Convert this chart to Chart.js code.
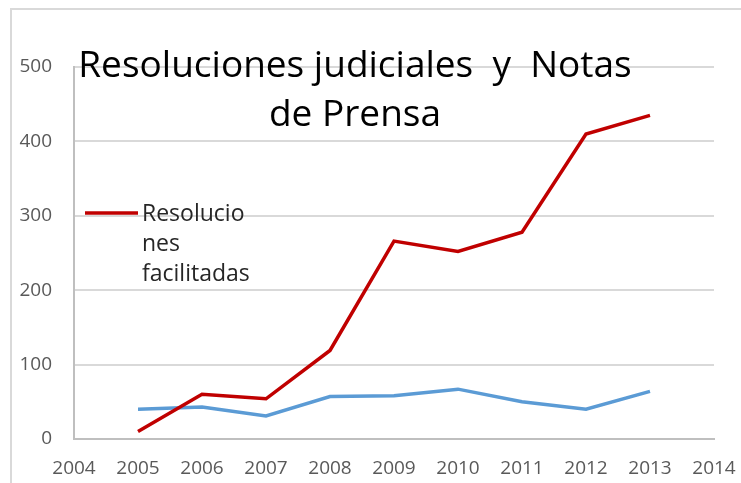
<!DOCTYPE html>
<html>
<head>
<meta charset="utf-8">
<script src="https://cdn.jsdelivr.net/npm/chart.js@4.4.1/dist/chart.umd.min.js"></script>
<style>
  body { margin: 0; background: #fff; }
  #wrap { position: relative; width: 741px; height: 483px; overflow: hidden; }
  #frame { position: absolute; left: 10px; top: 8px; width: 800px; height: 600px;
           border-left: 2px solid #d9d9d9; border-top: 2px solid #d9d9d9; }
  #myChart { position: absolute; left: 0; top: 0; }
</style>
</head>
<body>
<div id="wrap">
  <div id="frame"></div>
  <canvas id="myChart" width="741" height="483"></canvas>
</div>
<script>
const years = [2005, 2006, 2007, 2008, 2009, 2010, 2011, 2012, 2013]
const resoluciones = [10, 60, 54, 119, 266, 252, 278, 410, 435]
const notasPrensa = [40, 43, 31, 57, 58, 67, 50, 40, 64]
const xTicks = [2004, 2005, 2006, 2007, 2008, 2009, 2010, 2011, 2012, 2013, 2014]
const yTicks = [0, 100, 200, 300, 400, 500]
const titleLines = ['Resoluciones judiciales  y  Notas', 'de Prensa']
const legendLines = ['Resolucio', 'nes', 'facilitadas']

const red = '#c00000'
const blue = '#5b9bd5'
const font = '"Open Sans", sans-serif'

Chart.defaults.font.family = font

// title and the wrapped legend sit on top of the plot, like the original
const overlay = {
  id: 'overlay',
  afterDraw(chart) {
    const c = chart.ctx
    c.save()
    c.fillStyle = '#000'
    c.font = '37px ' + font
    c.textAlign = 'center'
    c.textBaseline = 'alphabetic'
    c.fillText(titleLines[0], 355, 77)
    c.fillText(titleLines[1], 355, 126)

    c.strokeStyle = red
    c.lineWidth = 3.5
    c.beginPath()
    c.moveTo(85, 213)
    c.lineTo(138, 213)
    c.stroke()
    c.fillStyle = '#262626'
    c.font = '23px ' + font
    c.textAlign = 'left'
    legendLines.forEach((t, i) => c.fillText(t, 142, 221 + i * 30))
    c.restore()
  }
}

const ctx = document.getElementById('myChart')

new Chart(ctx, {
  type: 'line',
  data: {
    datasets: [{
      label: 'Resoluciones facilitadas',
      data: years.map((y, i) => ({ x: y, y: resoluciones[i] })),
      borderColor: red,
      borderWidth: 3.5,
      pointRadius: 0,
      tension: 0
    }, {
      label: 'Notas de Prensa',
      data: years.map((y, i) => ({ x: y, y: notasPrensa[i] })),
      borderColor: blue,
      borderWidth: 3.5,
      pointRadius: 0,
      tension: 0
    }]
  },
  options: {
    responsive: false,
    animation: false,
    layout: { padding: { top: 67, right: 27, left: 0, bottom: 0 } },
    plugins: {
      legend: { display: false },
      title: { display: false },
      tooltip: { enabled: false }
    },
    scales: {
      x: {
        type: 'linear',
        min: xTicks[0],
        max: xTicks[xTicks.length - 1],
        afterBuildTicks: axis => { axis.ticks = xTicks.map(v => ({ value: v })) },
        afterFit: axis => {
          axis.height = 44
          axis.paddingLeft = 0
          axis.paddingRight = 0
        },
        grid: { display: false, drawTicks: false },
        border: { color: '#bfbfbf', width: 2 },
        ticks: {
          color: '#595959',
          font: { size: 19 },
          padding: 18,
          maxRotation: 0,
          callback: v => String(v)
        }
      },
      y: {
        min: 0,
        max: 500,
        afterBuildTicks: axis => { axis.ticks = yTicks.map(v => ({ value: v })) },
        afterFit: axis => { axis.width = 74 },
        grid: { color: '#d9d9d9', lineWidth: 2, drawTicks: false },
        border: { color: '#bfbfbf', width: 2 },
        ticks: {
          color: '#595959',
          font: { size: 19 },
          padding: 22
        }
      }
    }
  },
  plugins: [overlay]
})
</script>
</body>
</html>
